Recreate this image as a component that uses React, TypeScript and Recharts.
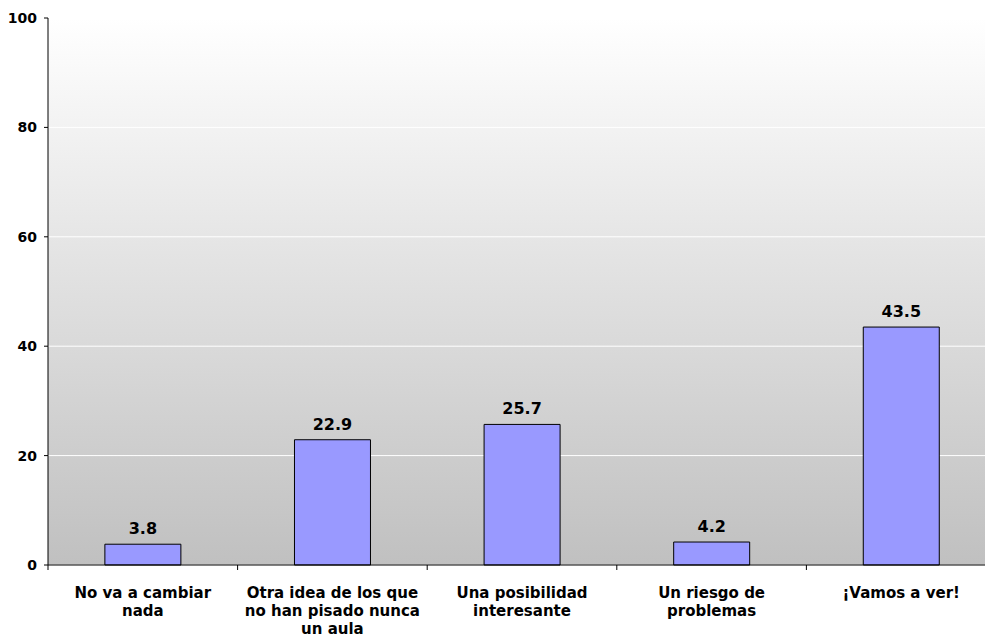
import { BarChart, Bar, XAxis, YAxis, CartesianGrid, LabelList } from 'recharts';

const categorias = [
  'No va a cambiar\nnada',
  'Otra idea de los que\nno han pisado nunca\nun aula',
  'Una posibilidad\ninteresante',
  'Un riesgo de\nproblemas',
  '¡Vamos a ver!',
];
const valores = [3.8, 22.9, 25.7, 4.2, 43.5];
const ticksY = [0, 20, 40, 60, 80, 100];

const data = categorias.map((nombre, i) => ({ nombre, valor: valores[i] }));

const ANCHO = 1000;
const MARGEN_IZQ = 48;
const MARGEN_DER = 4;
const BANDA = (ANCHO - MARGEN_IZQ - MARGEN_DER) / categorias.length;
const FUENTE = "'DejaVu Sans', sans-serif";

function TickX(props: any) {
  const { x, y, payload, index } = props;
  const lineas = String(payload.value).split('\n');
  const izq = x - BANDA / 2;
  return (
    <g>
      <line x1={izq} x2={izq} y1={y - 8} y2={y - 3} stroke='#000' />
      {index === categorias.length - 1 && (
        <line x1={izq + BANDA} x2={izq + BANDA} y1={y - 8} y2={y - 3} stroke='#000' />
      )}
      <text
        x={x}
        y={y + 25}
        textAnchor='middle'
        fontFamily={FUENTE}
        fontSize={15}
        fontWeight='bold'
        fill='#000'
      >
        {lineas.map((l, i) => (
          <tspan key={i} x={x} dy={i === 0 ? 0 : 18}>
            {l}
          </tspan>
        ))}
      </text>
    </g>
  );
}

export default function App() {
  return (
    <div style={{ position: 'absolute', left: 0, top: 0, width: 985, height: 643, overflow: 'hidden', background: '#fff' }}>
      <BarChart
        width={ANCHO}
        height={643}
        data={data}
        margin={{ top: 18, right: MARGEN_DER, bottom: 0, left: 0 }}
        barCategoryGap='30%'
      >
        <defs>
          <linearGradient id='fondo' x1='0' y1='0' x2='0' y2='1'>
            <stop offset='0%' stopColor='#ffffff' />
            <stop offset='100%' stopColor='#c0c0c0' />
          </linearGradient>
        </defs>
        <CartesianGrid vertical={false} stroke='#ffffff' fill='url(#fondo)' fillOpacity={1} />
        <XAxis
          dataKey='nombre'
          height={78}
          interval={0}
          tickLine={false}
          axisLine={{ stroke: '#000' }}
          tick={<TickX />}
        />
        <YAxis
          width={MARGEN_IZQ}
          domain={[0, 100]}
          ticks={ticksY}
          interval={0}
          tickSize={4}
          tickMargin={7}
          axisLine={{ stroke: '#000' }}
          tickLine={{ stroke: '#000' }}
          tick={{ fill: '#000', fontFamily: FUENTE, fontSize: 14, fontWeight: 'bold' }}
        />
        <Bar dataKey='valor' fill='#9999ff' stroke='#000' strokeWidth={1} isAnimationActive={false}>
          <LabelList
            dataKey='valor'
            position='top'
            offset={10}
            fill='#000'
            fontFamily={FUENTE}
            fontSize={16}
            fontWeight='bold'
          />
        </Bar>
      </BarChart>
    </div>
  );
}
